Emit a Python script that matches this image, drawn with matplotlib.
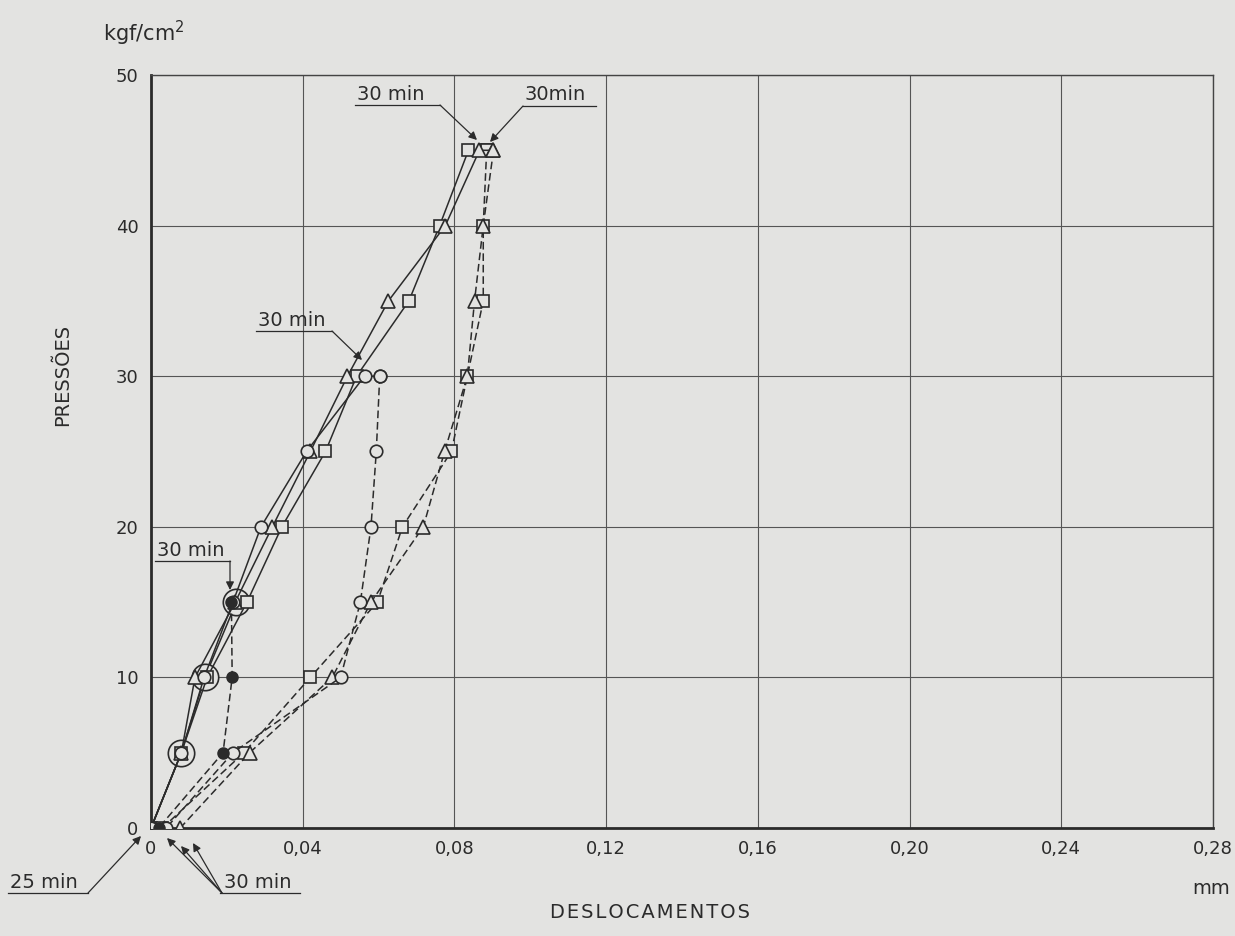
import matplotlib.pyplot as plt
from matplotlib.lines import Line2D

# ensaio de carga: pressoes (kgf/cm2) x deslocamentos (mm)
# carga = linha cheia, descarga = tracejado
pres_sq = [0, 5, 10, 15, 20, 25, 30, 35, 40, 45, 45]
desl_sq = [0, 0.008, 0.0148, 0.0253, 0.0345, 0.046, 0.0542, 0.068, 0.0761, 0.0837, 0.0885]
pres_sq_desc = [45, 40, 35, 30, 25, 20, 15, 10, 5, 0]
desl_sq_desc = [0.0885, 0.0876, 0.0876, 0.0834, 0.0792, 0.0663, 0.0597, 0.042, 0.0245, 0.003]

pres_tri = [0, 5, 10, 15, 20, 25, 30, 35, 40, 45, 45]
desl_tri = [0, 0.008, 0.0116, 0.0222, 0.032, 0.042, 0.0518, 0.0626, 0.0776, 0.0866, 0.0903]
pres_tri_desc = [45, 40, 35, 30, 25, 20, 15, 10, 5, 0]
desl_tri_desc = [0.0903, 0.0876, 0.0853, 0.0834, 0.0774, 0.0718, 0.058, 0.0478, 0.026, 0.0077]

pres_circ = [0, 5, 10, 15, 20, 25, 30, 30]
desl_circ = [0, 0.008, 0.014, 0.0216, 0.029, 0.041, 0.0563, 0.0603]
pres_circ_desc = [30, 25, 20, 15, 10, 5, 0]
desl_circ_desc = [0.0603, 0.0594, 0.058, 0.0552, 0.050, 0.0216, 0.004]

pres_dot = [0, 5, 10, 15]
desl_dot = [0, 0.008, 0.0142, 0.0225]
pres_dot_desc = [15, 10, 5, 0]
desl_dot_desc = [0.0212, 0.0214, 0.019, 0.002]

x_ticks = [0, 0.04, 0.08, 0.12, 0.16, 0.20, 0.24, 0.28]
x_labels = ['0', '0,04', '0,08', '0,12', '0,16', '0,20', '0,24', '0,28']
y_ticks = [0, 10, 20, 30, 40, 50]

bg = '#e3e3e1'
ink = '#2b2b2b'
W, H = 1235, 936

fig = plt.figure(figsize=(W / 100, H / 100), dpi=100, facecolor=bg)
ax = fig.add_axes([151 / W, 1 - 828 / H, (1213 - 151) / W, (828 - 75) / H])
ax.set_facecolor(bg)


def P(px, py):
    # pixel (from top-left) -> figure fraction
    return (px / W, 1 - py / H)


dash = (0, (5, 2.5))
mk = dict(mfc=bg, mec=ink, mew=1.2, color=ink, lw=1.1)

# big circles on the filled-dot loading
ax.plot(desl_dot, pres_dot, '-', marker='o', ms=19, markevery=[1, 2, 3], zorder=3, **mk)

ax.plot(desl_sq, pres_sq, '-', marker='s', ms=9, zorder=4, **mk)
ax.plot(desl_sq_desc, pres_sq_desc, marker='s', ms=9, ls=dash, zorder=4, **mk)
ax.plot(desl_tri, pres_tri, '-', marker='^', ms=10, zorder=4, **mk)
ax.plot(desl_tri_desc, pres_tri_desc, marker='^', ms=10, ls=dash, zorder=4, **mk)
ax.plot(desl_circ, pres_circ, '-', marker='o', ms=9, zorder=4, **mk)
ax.plot(desl_circ_desc, pres_circ_desc, marker='o', ms=9, ls=dash, zorder=4, **mk)
ax.plot(desl_dot_desc, pres_dot_desc, marker='o', ms=8, ls=dash, color=ink, lw=1.1,
        mfc=ink, mec=ink, zorder=5)

ax.set_xlim(0, 0.28)
ax.set_ylim(0, 50)
ax.set_xticks(x_ticks)
ax.set_xticklabels(x_labels)
ax.set_yticks(y_ticks)
ax.grid(True, color='#555555', lw=0.8)
ax.set_axisbelow(True)
ax.tick_params(length=0, labelsize=13, colors=ink, pad=9)
for side in ['top', 'right']:
    ax.spines[side].set_linewidth(1.0)
    ax.spines[side].set_color('#444444')
for side in ['left', 'bottom']:
    ax.spines[side].set_linewidth(2.0)
    ax.spines[side].set_color(ink)

# axis texts
fig.text(*P(103, 33), 'kgf/cm$^2$', fontsize=15, color=ink, va='center', ha='left')
fig.text(*P(63, 375), 'PRESSÕES', fontsize=14, color=ink, rotation=90, ha='center', va='center')
fig.text(*P(650, 912), '\u200a'.join('DESLOCAMENTOS'), fontsize=14, color=ink, ha='center', va='center')
fig.text(*P(1230, 888), 'mm', fontsize=14, color=ink, ha='right', va='center')


def line(p0, p1):
    fig.add_artist(Line2D([p0[0] / W, p1[0] / W], [1 - p0[1] / H, 1 - p1[1] / H],
                          color=ink, lw=0.9))


def arrow(p0, p1):
    ax.annotate('', xy=P(*p1), xycoords='figure fraction', xytext=P(*p0),
                textcoords='figure fraction',
                arrowprops=dict(arrowstyle='-|>', color=ink, lw=0.9, mutation_scale=12,
                                shrinkA=0, shrinkB=0))


# 25 min
fig.text(*P(10, 882), '25 min', fontsize=14, color=ink, va='center')
line((8, 893), (88, 893))
arrow((88, 893), (141, 836))

# 30 min (bottom)
fig.text(*P(224, 882), '30 min', fontsize=14, color=ink, va='center')
line((220, 893), (300, 893))
arrow((222, 893), (167, 838))
arrow((222, 893), (181, 846))
arrow((222, 893), (193, 843))

# 30 min at 15
fig.text(*P(157, 550), '30 min', fontsize=14, color=ink, va='center')
line((155, 561), (230, 561))
arrow((230, 561), (230, 590))

# 30 min at 30
fig.text(*P(258, 320), '30 min', fontsize=14, color=ink, va='center')
line((256, 331), (332, 331))
arrow((332, 331), (362, 360))

# 30 min at 45 (left and right)
fig.text(*P(357, 95), '30 min', fontsize=14, color=ink, va='center')
line((355, 105), (440, 105))
arrow((440, 105), (477, 140))
fig.text(*P(524, 95), '30min', fontsize=14, color=ink, va='center')
line((523, 106), (596, 106))
arrow((523, 106), (490, 142))

fig.savefig('out.png', dpi=100, facecolor=bg)
